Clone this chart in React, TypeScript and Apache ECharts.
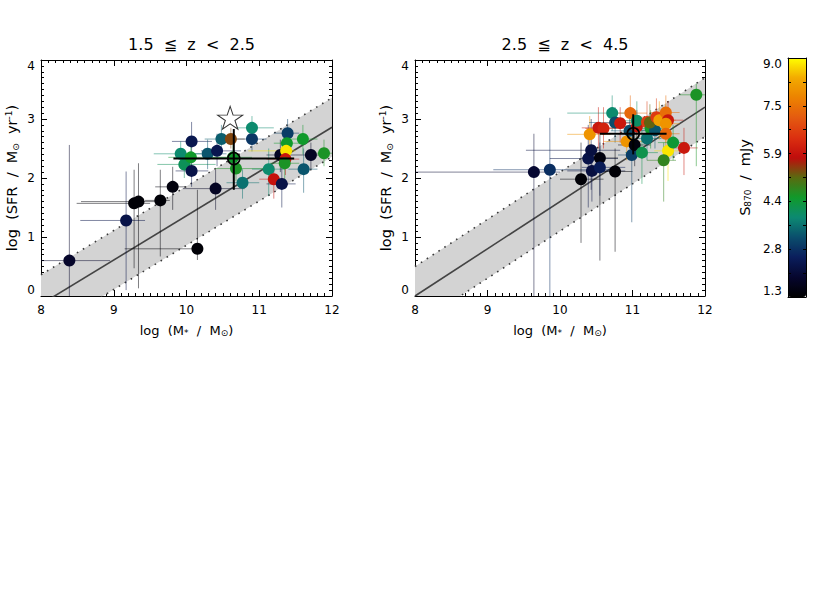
import React, { useEffect, useRef } from "react";
import * as echarts from "echarts";

// ---------- data ----------
const lowZTitle = "1.5  ≦  z  <  2.5";
const highZTitle = "2.5  ≦  z  <  4.5";
const massTicks = [8, 9, 10, 11, 12];
const sfrTicks = [0, 1, 2, 3, 4];

// [log M*, log SFR, S870 (mJy), M lo, M hi, SFR lo, SFR hi]
const lowZGalaxies: number[][] = [
  [8.39, 0.6, 1.9, 7.8, 8.95, -0.5, 2.56],
  [9.17, 1.28, 2.3, 8.54, 9.43, 0.1, 2.11],
  [9.28, 1.57, 1.4, 8.49, 9.5, 0.47, 2.14],
  [9.34, 1.6, 1.4, 8.55, 9.7, 0.13, 2.25],
  [9.64, 1.62, 1.4, 9.43, 9.77, 0.67, 2.14],
  [9.81, 1.85, 1.5, 9.57, 10.0, 1.46, 2.19],
  [10.15, 0.8, 1.4, 9.15, 10.2, 0.61, 1.8],
  [9.92, 2.41, 3.9, 9.55, 10.2, 2.2, 2.62],
  [9.97, 2.23, 4.1, 9.6, 10.4, 2.0, 2.45],
  [10.07, 2.62, 2.4, 9.8, 10.35, 2.3, 2.95],
  [10.06, 2.35, 4.5, 9.75, 10.6, 2.05, 2.6],
  [10.07, 2.12, 2.3, 9.85, 10.3, 1.85, 2.4],
  [10.29, 2.41, 3.3, 10.05, 10.55, 2.15, 2.65],
  [10.42, 2.46, 2.4, 10.2, 10.75, 2.2, 2.75],
  [10.48, 2.66, 3.4, 10.25, 10.7, 2.45, 2.9],
  [10.4, 1.82, 1.8, 9.95, 10.8, 1.46, 2.14],
  [10.61, 2.66, 5.4, 10.45, 10.8, 2.5, 2.85],
  [10.64, 2.35, 4.5, 10.3, 10.9, 2.1, 2.6],
  [10.68, 2.16, 4.6, 10.4, 11.1, 1.95, 2.4],
  [10.77, 1.92, 3.6, 10.55, 11.0, 1.65, 2.15],
  [10.9, 2.66, 2.9, 10.7, 11.1, 2.45, 2.9],
  [10.9, 2.85, 3.9, 10.7, 11.2, 2.65, 3.05],
  [11.13, 2.15, 3.9, 10.9, 11.35, 1.7, 2.5],
  [11.2, 1.98, 5.9, 11.0, 11.35, 1.65, 2.2],
  [11.31, 1.9, 2.3, 11.1, 11.5, 1.5, 2.2],
  [11.29, 2.39, 1.8, 11.1, 11.5, 2.1, 2.65],
  [11.39, 2.76, 3.0, 11.2, 11.55, 2.5, 3.0],
  [11.38, 2.59, 4.5, 11.2, 11.6, 2.3, 2.85],
  [11.37, 2.46, 8.8, 10.85, 11.5, 2.2, 2.7],
  [11.36, 2.32, 6.0, 11.1, 11.55, 2.05, 2.6],
  [11.35, 2.25, 4.6, 11.15, 11.55, 1.9, 2.5],
  [11.6, 2.66, 4.5, 11.4, 11.8, 2.4, 2.9],
  [11.71, 2.39, 1.8, 11.5, 11.9, 2.15, 2.6],
  [11.89, 2.42, 4.6, 11.7, 12.0, 2.2, 2.65],
  [11.61, 2.15, 3.3, 11.4, 11.8, 1.75, 2.5],
];

const highZGalaxies: number[][] = [
  [9.64, 2.1, 2.0, 7.9, 10.0, -0.5, 2.75],
  [9.86, 2.14, 2.8, 9.08, 10.7, -0.5, 3.02],
  [10.29, 1.98, 1.4, 10.0, 10.6, 0.9, 2.6],
  [10.39, 2.33, 2.3, 9.86, 10.8, 1.5, 2.9],
  [10.43, 2.47, 2.2, 9.53, 10.83, 1.8, 3.0],
  [10.44, 2.12, 2.2, 10.1, 10.9, 1.6, 2.5],
  [10.55, 2.34, 1.5, 10.3, 10.8, 0.6, 2.8],
  [10.55, 2.18, 2.5, 10.3, 10.9, 1.7, 2.6],
  [10.76, 2.11, 1.4, 10.5, 11.0, 0.75, 2.5],
  [10.41, 2.74, 8.0, 10.1, 10.7, 2.4, 3.05],
  [10.53, 2.85, 6.0, 10.3, 10.8, 2.5, 3.2],
  [10.6, 2.84, 6.2, 10.35, 10.9, 2.5, 3.2],
  [10.72, 3.1, 3.9, 10.1, 11.0, 2.8, 3.4],
  [10.76, 2.94, 3.2, 10.4, 11.0, 2.6, 3.2],
  [10.83, 2.93, 6.0, 10.6, 11.1, 2.6, 3.2],
  [10.92, 2.62, 8.0, 10.6, 11.2, 2.3, 2.9],
  [10.97, 3.1, 7.3, 10.75, 11.2, 2.8, 3.4],
  [10.96, 2.8, 3.2, 10.7, 11.2, 2.5, 3.1],
  [11.06, 2.87, 6.0, 10.85, 11.3, 2.55, 3.15],
  [10.99, 2.39, 3.0, 10.8, 11.2, 1.25, 2.7],
  [11.03, 2.56, 1.5, 10.8, 11.25, 2.2, 2.9],
  [11.06, 2.97, 4.0, 10.8, 11.3, 2.65, 3.3],
  [11.13, 2.43, 4.2, 10.9, 11.35, 1.9, 2.8],
  [11.2, 2.67, 3.6, 11.0, 11.4, 2.3, 2.95],
  [11.2, 2.95, 6.6, 11.0, 11.4, 2.6, 3.3],
  [11.25, 2.84, 4.5, 11.05, 11.45, 2.5, 3.15],
  [11.31, 2.81, 3.3, 11.1, 11.5, 2.5, 3.1],
  [11.24, 2.94, 5.2, 11.0, 11.45, 2.6, 3.25],
  [11.33, 3.03, 6.6, 11.1, 11.55, 2.7, 3.35],
  [11.37, 2.98, 8.2, 11.15, 11.6, 2.65, 3.3],
  [11.46, 3.11, 7.4, 11.25, 11.65, 2.8, 3.4],
  [11.49, 2.98, 6.0, 11.3, 11.7, 2.65, 3.3],
  [11.46, 2.92, 8.0, 11.25, 11.65, 2.6, 3.25],
  [11.46, 2.75, 7.3, 11.25, 11.65, 2.4, 3.05],
  [11.49, 2.46, 8.8, 11.3, 11.7, 1.95, 2.75],
  [11.56, 2.6, 4.4, 11.35, 11.75, 2.3, 2.9],
  [11.43, 2.3, 4.8, 11.2, 11.6, 1.6, 2.6],
  [11.71, 2.51, 6.0, 11.5, 11.9, 2.05, 2.85],
  [11.88, 3.41, 4.6, 11.65, 12.0, 2.2, 3.6],
];

// [log M*, log SFR, M lo, M hi, SFR lo, SFR hi]
const lowZMean = [10.65, 2.33, 9.82, 11.48, 1.8, 2.83];
const highZMean = [11.01, 2.75, 10.55, 11.47, 2.4, 3.08];
const lowZStar = [10.6, 3.02];

// main sequence: log SFR at the two ends of the mass range
const msMassRange = [8, 12];
const lowZMainSeq = [-0.14, 2.86];
const highZMainSeq = [0.0, 3.2];
const msScatter = 0.5;

const s870Range = [1.3, 9.0];
const s870Ticks = [1.3, 2.84, 4.38, 5.92, 7.46, 9.0];
const cmapColors = [
  "#000000", "#06062e", "#0a1e5c", "#0a4e6c", "#0c8a72", "#109a2a",
  "#5a6a10", "#c00c0c", "#dc3010", "#e45a10", "#ec8200", "#f2aa00", "#ffff00",
];

// ---------- helpers ----------
const FONT = "DejaVu Sans";

function clipHalf(poly: number[][], keep: (p: number[]) => boolean, yb: number) {
  const out: number[][] = [];
  for (let i = 0; i < poly.length; i++) {
    const a = poly[i];
    const b = poly[(i + 1) % poly.length];
    const ia = keep(a);
    const ib = keep(b);
    if (ia) out.push(a);
    if (ia !== ib) {
      const t = (yb - a[1]) / (b[1] - a[1]);
      out.push([a[0] + t * (b[0] - a[0]), yb]);
    }
  }
  return out;
}

const STAR_PATH =
  "path://M0 -100 L22.45 -30.9 L95.1 -30.9 L36.3 11.8 L58.8 80.9 L0 38.2 L-58.8 80.9 L-36.3 11.8 L-95.1 -30.9 L-22.45 -30.9 Z";

const subStyle = { fontSize: 9, verticalAlign: "bottom", padding: [5, 0, 0, 0], fontFamily: FONT, color: "#000" };
const supStyle = { fontSize: 9, verticalAlign: "top", padding: [0, 0, 7, 0], fontFamily: FONT, color: "#000" };

function panelAxes(gi: number) {
  const tickBase = {
    axisTick: { show: true, inside: true, length: 6, lineStyle: { color: "#000", width: 1 } },
    minorTick: { show: true, splitNumber: 10, length: 3, lineStyle: { color: "#000", width: 1 } },
    axisLine: { show: true, onZero: false, lineStyle: { color: "#000", width: 1 } },
    splitLine: { show: false },
  };
  const xAxes = [
    {
      gridIndex: gi, type: "value", position: "bottom", min: massTicks[0], max: massTicks[massTicks.length - 1], interval: 1,
      ...tickBase,
      axisLabel: { show: true, color: "#000", fontSize: 12, fontFamily: FONT, margin: 8 },
      name: "log  (M{sub|*}  /  M{sub|⊙})",
      nameLocation: "middle", nameGap: 27,
      nameTextStyle: {
        color: "#000", fontSize: 13, fontFamily: FONT,
        rich: { sub: subStyle },
      },
    },
    {
      gridIndex: gi, type: "value", position: "top", min: massTicks[0], max: massTicks[massTicks.length - 1], interval: 1,
      ...tickBase, axisLabel: { show: false },
    },
  ];
  const yAxes = [
    {
      gridIndex: gi, type: "value", position: "left", min: sfrTicks[0], max: sfrTicks[sfrTicks.length - 1], interval: 1,
      ...tickBase,
      axisLabel: {
        show: true, color: "#000", fontSize: 12, fontFamily: FONT, margin: 6,
        verticalAlignMinLabel: "bottom", verticalAlignMaxLabel: "top",
      },
      name: "log  (SFR  /  M{sub|⊙}  yr{sup|-1})",
      nameLocation: "middle", nameGap: 21, nameRotate: 90,
      nameTextStyle: {
        color: "#000", fontSize: 14.5, fontFamily: FONT,
        rich: { sub: subStyle, sup: supStyle },
      },
    },
    {
      gridIndex: gi, type: "value", position: "right", min: sfrTicks[0], max: sfrTicks[sfrTicks.length - 1], interval: 1,
      ...tickBase, axisLabel: { show: false },
    },
  ];
  return { xAxes, yAxes };
}

function bandSeries(gi: number, ms: number[]) {
  const ax = gi * 2;
  const up = ms.map((v) => v + msScatter);
  const lo = ms.map((v) => v - msScatter);
  const line = (vals: number[], dashed: boolean) => ({
    type: "line",
    xAxisIndex: ax, yAxisIndex: ax,
    data: [[msMassRange[0], vals[0]], [msMassRange[1], vals[1]]],
    symbol: "none", silent: true, clip: true, z: 3,
    lineStyle: dashed
      ? { color: "#3a3a3a", width: 1.6, type: [1.6, 5.4] }
      : { color: "#444", width: 1.6, type: "solid" },
  });
  return [
    {
      type: "custom",
      xAxisIndex: ax, yAxisIndex: ax, silent: true, z: 1,
      data: [[msMassRange[0], ms[0]]],
      renderItem: (params: any, api: any) => {
        let poly = [
          [msMassRange[0], lo[0]], [msMassRange[1], lo[1]],
          [msMassRange[1], up[1]], [msMassRange[0], up[0]],
        ];
        poly = clipHalf(poly, (p) => p[1] >= sfrTicks[0], sfrTicks[0]);
        poly = clipHalf(poly, (p) => p[1] <= sfrTicks[sfrTicks.length - 1], sfrTicks[sfrTicks.length - 1]);
        return {
          type: "polygon",
          shape: { points: poly.map((p) => api.coord(p)) },
          style: { fill: "#d3d3d3", stroke: null },
        };
      },
    },
    line(ms, false),
    line(up, true),
    line(lo, true),
  ];
}

function errorSeries(gi: number, data: number[][]) {
  const ax = gi * 2;
  const xmin = massTicks[0], xmax = massTicks[massTicks.length - 1];
  const ymin = sfrTicks[0], ymax = sfrTicks[sfrTicks.length - 1];
  return {
    type: "custom",
    xAxisIndex: ax, yAxisIndex: ax, silent: true, z: 4,
    encode: { x: 0, y: 1 },
    data,
    renderItem: (params: any, api: any) => {
      const x = api.value(0), y = api.value(1);
      const xl = Math.max(api.value(3), xmin), xh = Math.min(api.value(4), xmax);
      const yl = Math.max(api.value(5), ymin), yh = Math.min(api.value(6), ymax);
      const color = api.visual("color");
      const a = api.coord([xl, y]), b = api.coord([xh, y]);
      const c = api.coord([x, yl]), d = api.coord([x, yh]);
      const style = { stroke: color, lineWidth: 1, opacity: 0.5 };
      return {
        type: "group",
        children: [
          { type: "line", shape: { x1: a[0], y1: a[1], x2: b[0], y2: b[1] }, style },
          { type: "line", shape: { x1: c[0], y1: c[1], x2: d[0], y2: d[1] }, style },
        ],
      };
    },
  };
}

function pointSeries(gi: number, data: number[][]) {
  const ax = gi * 2;
  return {
    type: "scatter",
    xAxisIndex: ax, yAxisIndex: ax, z: 5,
    encode: { x: 0, y: 1 },
    data,
    symbol: "circle", symbolSize: 12,
    itemStyle: { opacity: 1, borderWidth: 0 },
  };
}

function meanSeries(gi: number, mean: number[]) {
  const ax = gi * 2;
  return {
    type: "custom",
    xAxisIndex: ax, yAxisIndex: ax, silent: true, z: 8,
    encode: { x: 0, y: 1 },
    data: [mean],
    renderItem: (params: any, api: any) => {
      const x = api.value(0), y = api.value(1);
      const a = api.coord([api.value(2), y]), b = api.coord([api.value(3), y]);
      const c = api.coord([x, api.value(4)]), d = api.coord([x, api.value(5)]);
      const p = api.coord([x, y]);
      const st = { stroke: "#000", lineWidth: 2 };
      return {
        type: "group",
        children: [
          { type: "line", shape: { x1: a[0], y1: a[1], x2: b[0], y2: b[1] }, style: st },
          { type: "line", shape: { x1: c[0], y1: c[1], x2: d[0], y2: d[1] }, style: st },
          { type: "circle", shape: { cx: p[0], cy: p[1], r: 6 }, style: { fill: "none", stroke: "#000", lineWidth: 1.6 } },
        ],
      };
    },
  };
}

function buildOption() {
  const p0 = panelAxes(0);
  const p1 = panelAxes(1);

  const cbMinor: number[] = [];
  for (let i = 0; i < s870Ticks.length; i++) {
    cbMinor.push(s870Ticks[i]);
    if (i < s870Ticks.length - 1) cbMinor.push((s870Ticks[i] + s870Ticks[i + 1]) / 2);
  }

  const series: any[] = [];
  series.push(...bandSeries(0, lowZMainSeq)); // 0-3
  series.push(errorSeries(0, lowZGalaxies)); // 4
  series.push(pointSeries(0, lowZGalaxies)); // 5
  series.push(meanSeries(0, lowZMean)); // 6
  series.push({
    type: "scatter", xAxisIndex: 0, yAxisIndex: 0, z: 9,
    data: [lowZStar], symbol: STAR_PATH, symbolSize: [25, 24], symbolKeepAspect: true,
    itemStyle: { color: "#fff", borderColor: "#000", borderWidth: 1 },
  }); // 7
  series.push(...bandSeries(1, highZMainSeq)); // 8-11
  series.push(errorSeries(1, highZGalaxies)); // 12
  series.push(pointSeries(1, highZGalaxies)); // 13
  series.push(meanSeries(1, highZMean)); // 14

  const cbAxisBase = {
    gridIndex: 2, z: 10,
    axisLine: { show: true, onZero: false, lineStyle: { color: "#000", width: 1 } },
    splitLine: { show: false },
  };

  const titleStyle = { fontSize: 16, fontWeight: "normal", color: "#000", fontFamily: FONT };

  return {
    animation: false,
    backgroundColor: "#fff",
    textStyle: { fontFamily: FONT },
    title: [
      { text: lowZTitle, left: 186.5, top: 31, textAlign: "center", textStyle: titleStyle },
      { text: highZTitle, left: 560, top: 31, textAlign: "center", textStyle: titleStyle },
    ],
    grid: [
      { left: 41, top: 60, width: 291, height: 236, show: false },
      { left: 415, top: 60, width: 290, height: 236, show: false },
      { left: 788, top: 58, width: 18, height: 239, show: false },
    ],
    xAxis: [
      ...p0.xAxes,
      ...p1.xAxes,
      { ...cbAxisBase, type: "value", position: "bottom", min: 0, max: 1, axisTick: { show: false }, axisLabel: { show: false } },
      { ...cbAxisBase, type: "value", position: "top", min: 0, max: 1, axisTick: { show: false }, axisLabel: { show: false } },
    ],
    yAxis: [
      ...p0.yAxes,
      ...p1.yAxes,
      {
        ...cbAxisBase, type: "value", position: "left", min: s870Range[0], max: s870Range[1],
        axisTick: { show: true, inside: true, length: 3, customValues: cbMinor, lineStyle: { color: "#000" } },
        axisLabel: {
          show: true, customValues: s870Ticks, color: "#000", fontSize: 12, fontFamily: FONT, margin: 6,
          formatter: (v: number) => v.toFixed(1),
          verticalAlignMinLabel: "bottom", verticalAlignMaxLabel: "top",
        },
        name: "S{sub|870}  /  mJy",
        nameLocation: "middle", nameRotate: 90, nameGap: 36,
        nameTextStyle: {
          color: "#000", fontSize: 14.5, fontFamily: FONT,
          rich: { sub: subStyle },
        },
      },
      {
        ...cbAxisBase, type: "value", position: "right", min: s870Range[0], max: s870Range[1],
        axisTick: { show: true, inside: true, length: 3, customValues: cbMinor, lineStyle: { color: "#000" } },
        axisLabel: { show: false },
      },
    ],
    visualMap: {
      type: "continuous",
      min: s870Range[0], max: s870Range[1],
      dimension: 2,
      seriesIndex: [4, 5, 12, 13],
      inRange: { color: cmapColors },
      show: true,
      left: 788, top: 58, itemWidth: 18, itemHeight: 239,
      padding: 0, calculable: false, showLabel: false, text: null,
      orient: "vertical", hoverLink: false,
    },
    series,
  };
}

export default function App() {
  const ref = useRef<HTMLDivElement>(null);
  useEffect(() => {
    if (!ref.current) return;
    const chart = echarts.init(ref.current, undefined, { renderer: "svg" });
    chart.setOption(buildOption() as any);
    return () => chart.dispose();
  }, []);
  return (
    <div
      ref={ref}
      style={{ position: "fixed", left: 0, top: 0, width: 830, height: 593, background: "#fff" }}
    />
  );
}
